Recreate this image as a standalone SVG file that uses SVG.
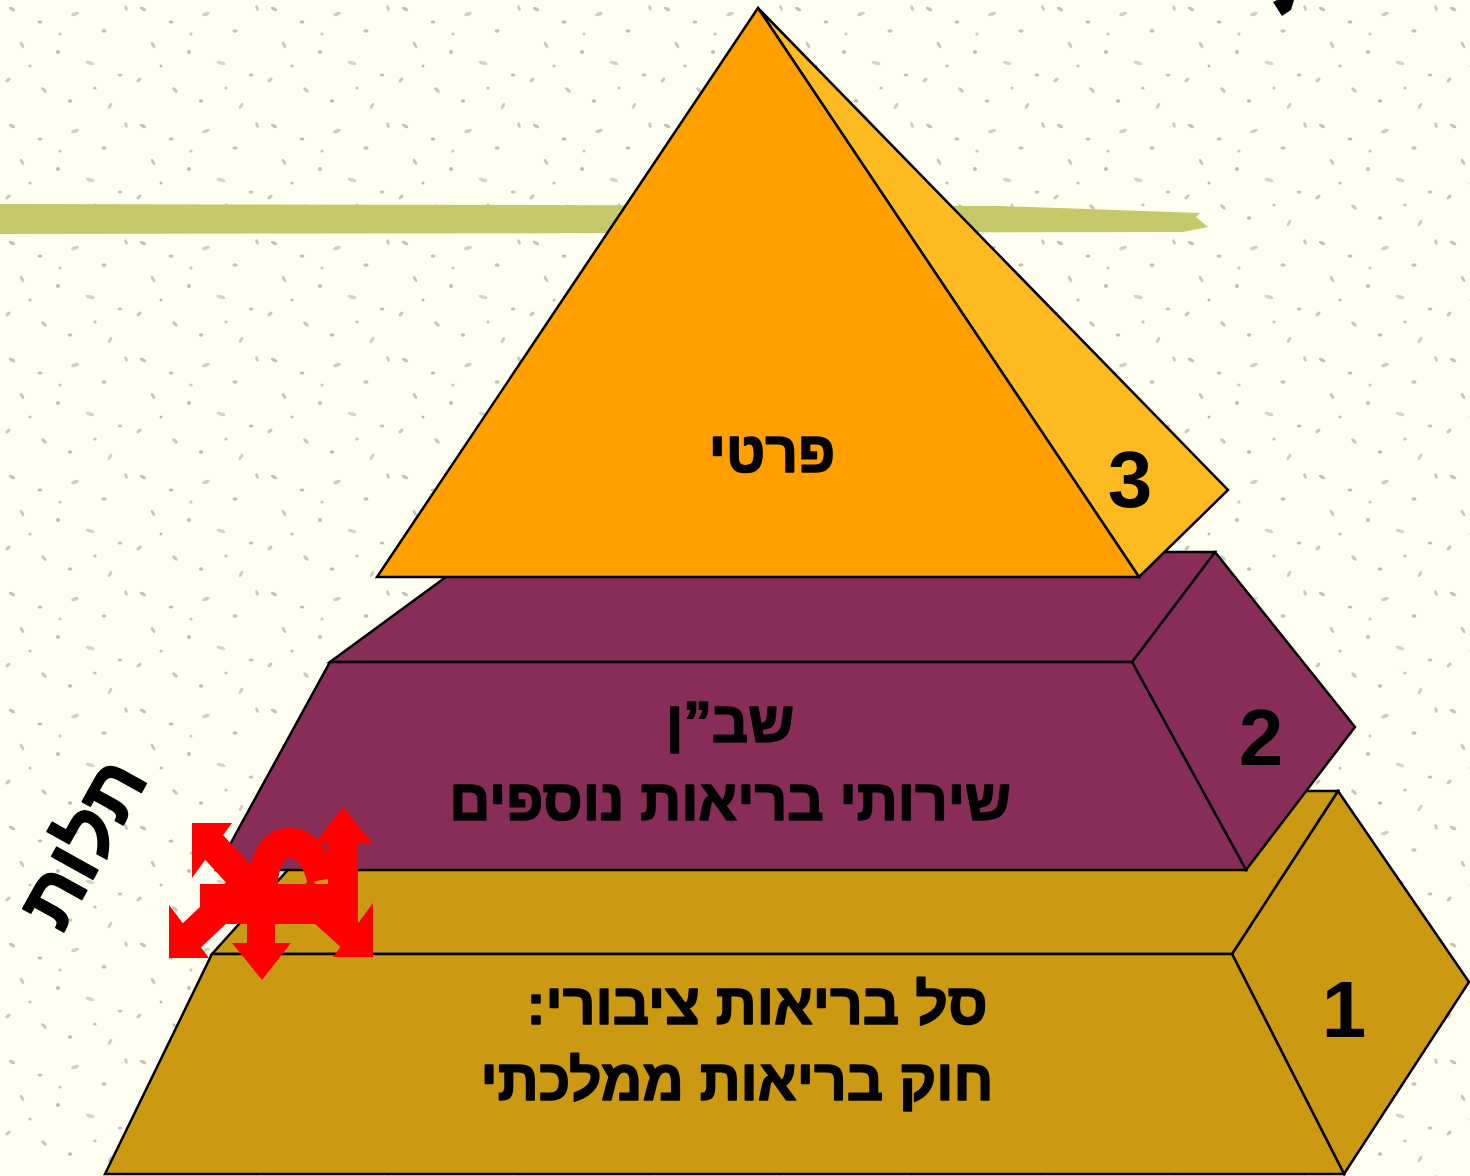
<svg xmlns="http://www.w3.org/2000/svg" width="1470" height="1176" viewBox="0 0 1470 1176">
<style>
.edge{stroke:#000;stroke-width:2.5;stroke-linejoin:miter}
.gold{fill:#CC9A12}
.purple{fill:#882C58}
.lbl{font-family:"Liberation Sans","DejaVu Sans",sans-serif;font-weight:bold;fill:#000}
.heb{stroke:#000;stroke-width:1.6;stroke-linejoin:round}
.red{fill:#FF0000}
</style>
<defs>
<pattern id="speck" width="131" height="117" patternUnits="userSpaceOnUse">
<g fill="#8a8a7a">
<ellipse cx="12" cy="9" rx="3.5" ry="1.6" transform="rotate(30 12 9)" opacity="0.5"/>
<ellipse cx="40" cy="22" rx="2.4" ry="1.5" opacity="0.55"/>
<ellipse cx="75" cy="14" rx="4" ry="1.8" transform="rotate(-20 75 14)" opacity="0.4"/>
<ellipse cx="104" cy="31" rx="2.6" ry="1.8" opacity="0.5"/>
<ellipse cx="22" cy="45" rx="3.5" ry="1.5" transform="rotate(60 22 45)" opacity="0.45"/>
<ellipse cx="58" cy="52" rx="2" ry="2" opacity="0.55"/>
<ellipse cx="90" cy="63" rx="4.5" ry="1.8" transform="rotate(15 90 63)" opacity="0.35"/>
<ellipse cx="120" cy="75" rx="2.4" ry="1.5" opacity="0.5"/>
<ellipse cx="8" cy="80" rx="3" ry="1.6" transform="rotate(-40 8 80)" opacity="0.45"/>
<ellipse cx="44" cy="90" rx="3.5" ry="1.6" transform="rotate(45 44 90)" opacity="0.45"/>
<ellipse cx="70" cy="101" rx="2.2" ry="1.7" opacity="0.55"/>
<ellipse cx="110" cy="106" rx="3.5" ry="1.5" transform="rotate(-60 110 106)" opacity="0.4"/>
<ellipse cx="30" cy="66" rx="1.5" ry="1.5" opacity="0.55"/>
<ellipse cx="126" cy="8" rx="2.8" ry="1.5" transform="rotate(70 126 8)" opacity="0.45"/>
<ellipse cx="60" cy="34" rx="1.6" ry="1.6" opacity="0.45"/>
<ellipse cx="95" cy="88" rx="1.6" ry="1.6" opacity="0.5"/>
</g>
</pattern>
</defs>
<rect x="0" y="0" width="1470" height="1176" fill="#FEFEF1"/>
<rect x="0" y="0" width="1470" height="1176" fill="url(#speck)"/>
<path d="M0,204 L1000,206 L1200,213 L1196,217 L1208,227 L1183,232 L0,234 Z" fill="#C6C96A"/>
<path d="M1273,2 L1282,16 L1291,10 L1294,0 L1277,0 Z" fill="#000"/>

<g id="tier1">
<polygon class="gold edge" points="1232,954 1338,791 1469,982 1344,1174"/>
<polygon class="gold edge" points="212,954 359,791 1338,791 1232,954"/>
<polygon class="gold edge" points="105,1174 212,954 1232,954 1344,1174"/>
<text class="lbl heb" x="757" y="1024" font-size="57" text-anchor="middle" direction="rtl">סל בריאות ציבורי:</text>
<text class="lbl heb" x="737" y="1100" font-size="57" text-anchor="middle" direction="rtl">חוק בריאות ממלכתי</text>
<text class="lbl" x="1344" y="1037" font-size="80" text-anchor="middle">1</text>
</g>

<g id="tier2">
<polygon class="purple edge" points="1132,662 1215,552 1355,727 1246,870"/>
<polygon class="purple edge" points="330,662 480,552 1215,552 1132,662"/>
<polygon class="purple edge" points="216,870 330,662 1132,662 1246,870"/>
<text class="lbl heb" x="730" y="742" font-size="57" text-anchor="middle" direction="rtl">שב”ן</text>
<text class="lbl heb" x="730" y="820" font-size="57" text-anchor="middle" direction="rtl">שירותי בריאות נוספים</text>
<text class="lbl" x="1261" y="765" font-size="80" text-anchor="middle">2</text>
</g>

<g id="tier3">
<polygon class="edge" fill="#FDBA21" points="758,8 1228,490 1139,577"/>
<polygon class="edge" fill="#FFA000" points="758,8 377,577 1139,577"/>
<text class="lbl heb" x="772" y="472" font-size="57" text-anchor="middle" direction="rtl">פרטי</text>
<text class="lbl" x="1130" y="507" font-size="80" text-anchor="middle">3</text>
</g>

<g id="dependency-arrows">
<rect class="red" x="200" y="884" width="158" height="40"/>
<path d="M262,900 C262,855 275,843 290,843 C305,843 318,860 322,880" fill="none" stroke="#FF0000" stroke-width="30"/>
<rect class="red" x="328" y="840" width="30" height="60"/>
<path class="red" d="M343,807 L372,843 L315,843 Z"/>
<rect class="red" x="247" y="905" width="28" height="40"/>
<path class="red" d="M262,980 L291,943 L232,943 Z"/>
<line x1="212" y1="845" x2="262" y2="900" stroke="#FF0000" stroke-width="30"/>
<path class="red" d="M192,823 L232,823 L192,878 Z"/>
<line x1="190" y1="937" x2="240" y2="890" stroke="#FF0000" stroke-width="30"/>
<path class="red" d="M169,958 L169,905 L209,958 Z"/>
<line x1="352" y1="937" x2="300" y2="890" stroke="#FF0000" stroke-width="30"/>
<path class="red" d="M373,957 L373,903 L333,957 Z"/>
</g>

<g id="dependency-label">
<text class="lbl heb" x="0" y="0" font-size="78" text-anchor="middle" direction="rtl" transform="translate(106,856) rotate(-61)">תלות</text>
</g>
</svg>
